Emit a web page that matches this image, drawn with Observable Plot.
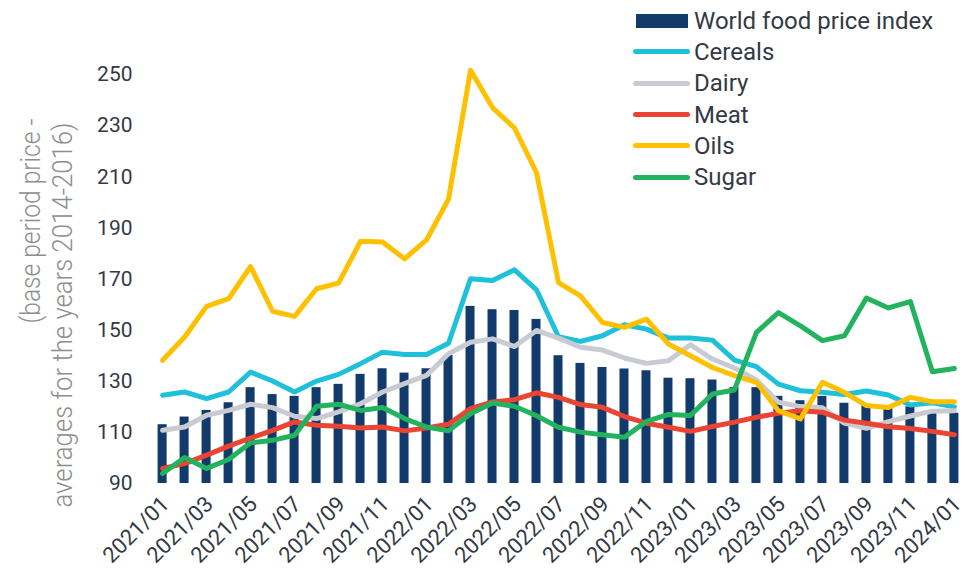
<!DOCTYPE html>
<html><head><meta charset="utf-8">
<script src="https://cdn.jsdelivr.net/npm/d3@7"></script>
<script src="https://cdn.jsdelivr.net/npm/@observablehq/plot@0.6"></script>
<style>
body{margin:0;background:#fff;}
#wrap{position:relative;width:965px;height:570px;font-family:Roboto,sans-serif;}
#legend{position:absolute;left:633px;top:5px;}
.row{display:flex;align-items:center;height:31.3px;font-size:24px;color:#333a45;white-space:nowrap;}
.sw{width:57px;margin-right:4px;display:flex;align-items:center;justify-content:center;}
</style></head><body><div id="wrap"><div id="legend"></div></div>
<script>
const months = ["2021/01","2021/02","2021/03","2021/04","2021/05","2021/06","2021/07","2021/08","2021/09","2021/10","2021/11","2021/12",
"2022/01","2022/02","2022/03","2022/04","2022/05","2022/06","2022/07","2022/08","2022/09","2022/10","2022/11","2022/12",
"2023/01","2023/02","2023/03","2023/04","2023/05","2023/06","2023/07","2023/08","2023/09","2023/10","2023/11","2023/12","2024/01"];
const xTicks = ["2021/01","2021/03","2021/05","2021/07","2021/09","2021/11","2022/01","2022/03","2022/05","2022/07","2022/09","2022/11",
"2023/01","2023/03","2023/05","2023/07","2023/09","2023/11","2024/01"];
const yTicks = [90,110,130,150,170,190,210,230,250];

const foodIndex = [113.0,116.0,118.6,121.6,127.5,124.8,124.1,127.5,128.8,132.7,134.9,133.2,134.9,140.1,159.3,158.0,157.7,154.2,140.0,137.0,135.4,134.8,134.1,131.2,131.0,130.5,127.5,127.5,124.1,122.4,124.1,121.4,120.5,119.5,120.0,117.8,117.5];
const cereals = [124.5,125.8,123.2,125.8,133.6,130.1,125.8,130.1,132.7,136.9,141.4,140.5,140.5,144.9,170.1,169.4,173.6,165.8,147.4,145.6,147.8,152.1,150.4,146.9,146.9,146.1,138.3,135.7,128.9,126.3,125.7,124.8,126.2,124.6,120.7,121.6,120.0];
const dairy = [110.8,112.1,116.7,118.6,121.0,119.7,116.3,115.4,118.0,121.2,125.8,129.1,132.3,140.8,145.3,146.6,143.6,149.9,146.9,143.3,142.2,139.1,137.0,138.0,144.3,138.7,135.2,130.5,121.8,120.1,119.6,113.6,111.6,114.2,116.4,118.3,118.5];
const meat = [95.9,97.8,101.1,104.6,107.8,110.8,114.1,112.8,112.4,111.7,112.1,110.6,111.7,113.2,119.3,121.9,122.8,125.5,123.7,120.9,119.8,116.2,113.6,112.0,110.4,112.3,114.0,115.9,117.5,118.5,117.9,114.8,113.6,112.2,111.5,110.4,109.1];
const oils = [138.2,147.3,159.3,162.3,174.9,157.4,155.4,166.2,168.4,184.8,184.5,177.9,185.3,201.3,251.7,237.1,229.1,211.7,168.6,163.4,153.0,151.1,154.3,144.6,140.0,135.4,132.2,129.6,118.5,115.3,129.6,125.7,120.5,119.7,123.7,122.0,122.0];
const sugar = [93.9,100.2,95.9,99.4,105.9,106.9,108.9,120.2,121.0,118.6,119.7,115.4,112.1,110.6,117.3,121.5,120.2,116.5,112.0,110.1,109.1,108.1,114.3,117.0,116.6,125.0,126.6,149.1,156.9,151.7,145.9,147.8,162.6,158.7,161.2,133.7,135.0];

const barName = "World food price index";
const barColor = "#123a6b";
const seriesNames = ["Cereals","Dairy","Meat","Oils","Sugar"];
const seriesValues = [cereals, dairy, meat, oils, sugar];
const seriesColors = ["#1fc0da","#c8ccd2","#ec4433","#ffc000","#21b35e"];
const yTitleLines = ["(base period price -", "averages for the years 2014-2016)"];

const barData = months.map((m, i) => ({month: m, value: foodIndex[i]}));
const lineData = seriesNames.flatMap((s, k) => seriesValues[k].map((v, i) => ({month: months[i], value: v, series: s})));

const titleStyle = {text: d => d, frameAnchor: "top-left", rotate: -90, textAnchor: "start", lineAnchor: "middle", fontSize: 28, fontWeight: 300, fill: "#8e8e8e"};

const chart = Plot.plot({
  width: 965, height: 570,
  marginLeft: 151, marginRight: 0, marginTop: 23, marginBottom: 87,
  style: {fontFamily: "Roboto, sans-serif", fontSize: "21px", color: "#333a45", background: "white", overflow: "visible"},
  x: {domain: months, paddingInner: 0.59, paddingOuter: 0.3, label: null},
  y: {domain: [90, 270], label: null},
  color: {domain: seriesNames, range: seriesColors},
  marks: [
    Plot.barY(barData, {x: "month", y1: 90, y2: "value", fill: barColor}),
    Plot.line(lineData, {x: "month", y: "value", z: "series", stroke: "series", strokeWidth: 5, strokeLinejoin: "round", strokeLinecap: "round"}),
    Plot.axisY({ticks: yTicks, tickSize: 0, tickPadding: 19, fontSize: 21, label: null}),
    Plot.axisX({ticks: xTicks, tickSize: 0, tickRotate: -45, tickPadding: 17, dx: 3, fontSize: 22, label: null}),
    Plot.text([yTitleLines[0]], {...titleStyle, dx: -120, dy: 300}),
    Plot.text([yTitleLines[1]], {...titleStyle, dx: -88, dy: 484})
  ]
});
// condense the axis title glyphs to the reference's narrow lettering
const titleLengths = [205, 385];
d3.select(chart).selectAll("text").each(function() {
  const k = yTitleLines.indexOf(this.textContent);
  if (k >= 0) d3.select(this).attr("textLength", titleLengths[k]).attr("lengthAdjust", "spacingAndGlyphs");
});
document.getElementById("wrap").appendChild(chart);

const legend = document.getElementById("legend");
const items = [{name: barName, color: barColor, bar: true}].concat(seriesNames.map((n, k) => ({name: n, color: seriesColors[k], bar: false})));
for (const it of items) {
  const row = document.createElement("div");
  row.className = "row";
  const sw = document.createElement("div");
  sw.className = "sw";
  const mark = document.createElement("div");
  if (it.bar) { mark.style.cssText = `width:52px;height:14px;background:${it.color}`; }
  else { mark.style.cssText = `width:57px;height:5px;border-radius:3px;background:${it.color}`; }
  sw.appendChild(mark);
  const label = document.createElement("span");
  label.textContent = it.name;
  row.appendChild(sw); row.appendChild(label);
  legend.appendChild(row);
}
</script></body></html>
